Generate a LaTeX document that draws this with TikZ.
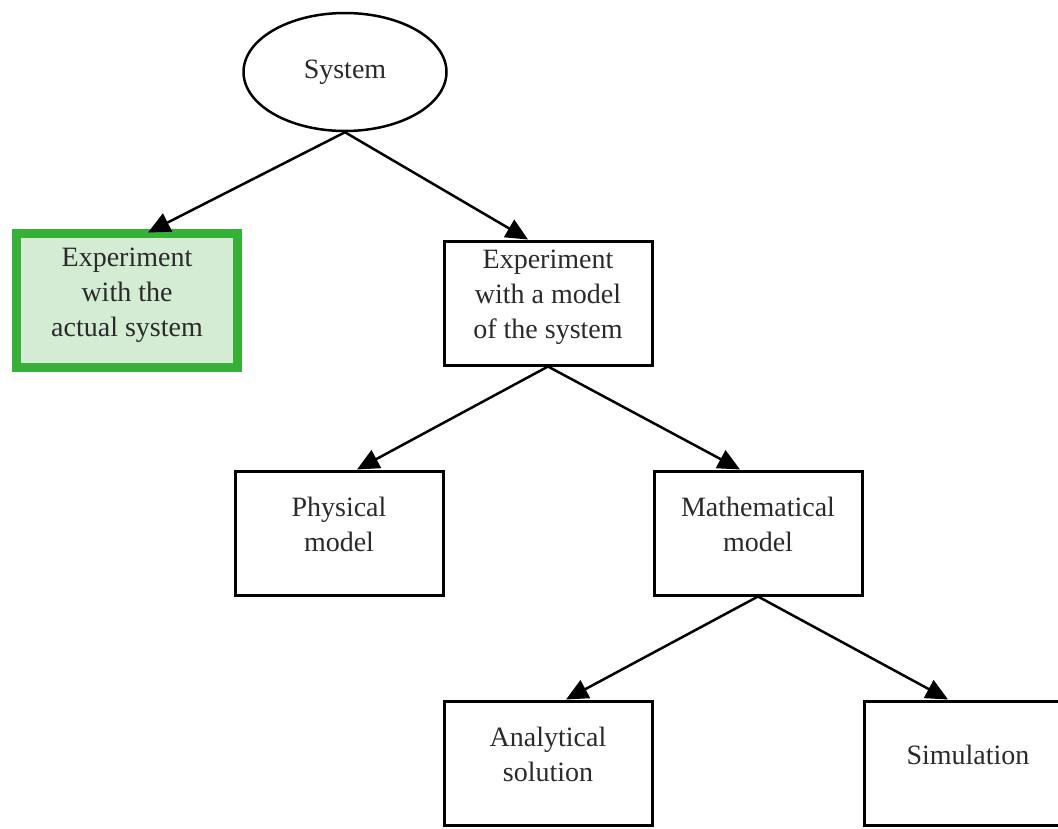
\documentclass[tikz,border=0pt]{standalone}
\usepackage{fontspec}
\setmainfont{Liberation Serif}
\usetikzlibrary{arrows.meta, shapes.geometric}
\definecolor{boxgreen}{HTML}{36B037}
\definecolor{palegreen}{HTML}{D4ECD4}
\definecolor{inkgray}{HTML}{2A2A2A}
\tikzset{
  boxtext/.style={font=\fontsize{28}{35}\selectfont, text=inkgray, align=center},
  treebox/.style={boxtext, draw, line width=3pt, minimum width=208pt, minimum height=124pt, inner sep=0pt, text depth=17pt},
  greenbox/.style={boxtext, draw=boxgreen, fill=palegreen, line width=9pt, minimum width=221pt, minimum height=134pt, inner sep=0pt, text depth=16pt},
  sysnode/.style={boxtext, ellipse, draw, line width=2.5pt, minimum width=203pt, minimum height=118pt, inner sep=0pt},
  edge/.style={line width=2.5pt, -{Triangle[length=22pt, width=20pt]}}
}

\begin{document}
\begin{tikzpicture}[x=1pt, y=-1pt]
  \clip (0,0) rectangle (1058,828);
  \useasboundingbox (0,0) rectangle (1058,828);

  % top level
  \node[sysnode] (sys) at (345,72) {System};
  \node[greenbox] (act) at (127,300) {Experiment\\with the\\actual system};
  \node[treebox] (mod) at (548,303) {Experiment\\with a model\\of the system};

  % model types
  \node[treebox] (phys) at (339,533) {Physical\\model};
  \node[treebox] (math) at (758,533) {Mathematical\\model};

  % ways to study the mathematical model
  \node[treebox] (anal) at (548,763) {Analytical\\solution};
  \node[treebox] (sim) at (968,763) {Simulation};

  \draw[edge] (sys.south) -- ([xshift=21pt, yshift=-4pt]act.north);
  \draw[edge] (sys.south) -- ([xshift=-20pt]mod.north);
  \draw[edge] (mod.south) -- ([xshift=18pt]phys.north);
  \draw[edge] (mod.south) -- ([xshift=-18pt]math.north);
  \draw[edge] (math.south) -- ([xshift=18pt]anal.north);
  \draw[edge] (math.south) -- ([xshift=-20pt]sim.north);
\end{tikzpicture}
\end{document}
